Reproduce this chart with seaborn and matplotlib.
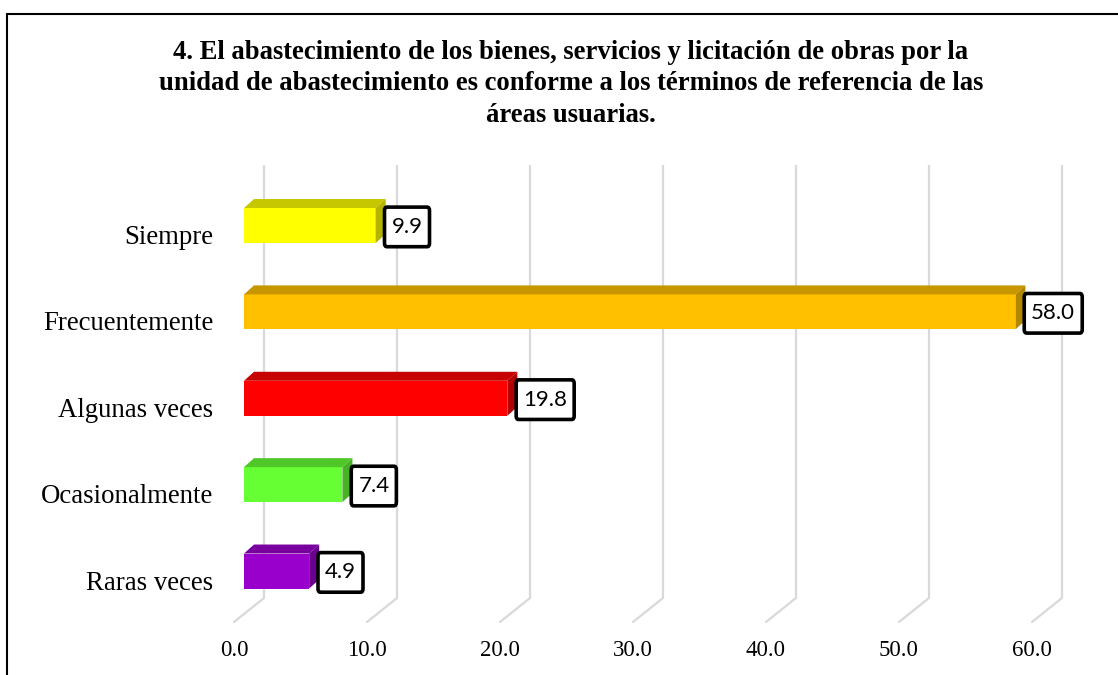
import matplotlib
matplotlib.use("Agg")
import matplotlib.pyplot as plt
import seaborn as sns
import pandas as pd
from matplotlib.patches import Polygon
from matplotlib.lines import Line2D
from matplotlib.transforms import ScaledTranslation, blended_transform_factory

# Survey answers and their percentages
categories = ["Siempre", "Frecuentemente", "Algunas veces", "Ocasionalmente", "Raras veces"]
values = [9.9, 58.0, 19.8, 7.4, 4.9]
colors = ["#FFFF00", "#FFC000", "#FF0000", "#66FF33", "#9900CC"]
x_ticks = [0, 10, 20, 30, 40, 50, 60]
x_tick_labels = ["0.0", "10.0", "20.0", "30.0", "40.0", "50.0", "60.0"]
title = ("4. El abastecimiento de los bienes, servicios y licitación de obras por la\n"
         "unidad de abastecimiento es conforme a los términos de referencia de las\n"
         "áreas usuarias.")

sns.set_theme(style="white")
plt.rcParams["font.family"] = ["Liberation Serif", "DejaVu Serif"]

W, H, DPI = 1118, 675, 100
fig = plt.figure(figsize=(W / DPI, H / DPI), dpi=DPI)
fig.patch.set_facecolor("white")

# front plane of the bars
ax_l, ax_r, ax_t, ax_b = 244, 1042, 180, 613
ax = fig.add_axes([ax_l / W, (H - ax_b) / H, (ax_r - ax_l) / W, (ax_b - ax_t) / H])
ax.set_facecolor("none")

df = pd.DataFrame({"cat": categories, "val": values})
sns.barplot(data=df, x="val", y="cat", hue="cat", order=categories, hue_order=categories,
            palette=colors, width=0.405, orient="h", legend=False, saturation=1,
            linewidth=0, edgecolor="none", ax=ax, zorder=3)

xmin, xmax = 0, 60
ytop, ybot = -0.527, 4.486
ax.set_xlim(xmin, xmax)
ax.set_ylim(ybot, ytop)

px_x = (ax_r - ax_l) / (xmax - xmin)
px_y = (ax_b - ax_t) / (ybot - ytop)
ax_h = ax_b - ax_t


def shade(c, f):
    r, g, b = matplotlib.colors.to_rgb(c)
    return (r * f, g * f, b * f)


# depth faces of the bars
ddx, ddy = 10 / px_x, 9 / px_y
for p, c in zip(ax.patches, colors):
    x0, y0, w, h = p.get_x(), p.get_y(), p.get_width(), p.get_height()
    top = [(x0, y0), (x0 + w, y0), (x0 + w + ddx, y0 - ddy), (x0 + ddx, y0 - ddy)]
    side = [(x0 + w, y0), (x0 + w + ddx, y0 - ddy), (x0 + w + ddx, y0 + h - ddy), (x0 + w, y0 + h)]
    ax.add_patch(Polygon(top, closed=True, fc=shade(c, 0.78), ec="none", zorder=3, clip_on=False))
    ax.add_patch(Polygon(side, closed=True, fc=shade(c, 0.70), ec="none", zorder=3, clip_on=False))

# back wall gridlines and floor edges
bt = blended_transform_factory(ax.transData, ax.transAxes)
back_dx, back_dy = 20 / px_x, 15 / ax_h
front_dx, front_dy = -10 / px_x, -9 / ax_h
for t in x_ticks:
    ax.plot([t + back_dx, t + back_dx], [back_dy, 1 + back_dy], color="#D9D9D9", lw=1.6,
            transform=bt, clip_on=False, zorder=1, solid_capstyle="butt")
    ax.plot([t + back_dx, t + front_dx], [back_dy, front_dy], color="#D9D9D9", lw=1.6,
            transform=bt, clip_on=False, zorder=1)

for s in ax.spines.values():
    s.set_visible(False)
ax.grid(False)
ax.set_xlabel("")
ax.set_ylabel("")
ax.set_xticks(x_ticks)
ax.set_xticklabels(x_tick_labels)
ax.tick_params(axis="x", length=0, pad=19.5, labelsize=16.5, labelcolor="black")
ax.tick_params(axis="y", length=0, pad=22.3, labelsize=19.3, labelcolor="black")
for lab in ax.get_xticklabels():
    lab.set_transform(lab.get_transform() + ScaledTranslation(-10 / DPI, 0, fig.dpi_scale_trans))
for lab in ax.get_yticklabels():
    lab.set_transform(lab.get_transform() + ScaledTranslation(0, -9 / DPI, fig.dpi_scale_trans))

# value labels
for i, v in enumerate(values):
    ax.annotate(f"{v:.1f}", xy=(v, i), xytext=(11.4, -1), textcoords="offset points",
                ha="left", va="center", fontsize=16, family=["Lato", "DejaVu Sans"],
                color="black", zorder=5,
                bbox=dict(boxstyle="round,pad=0.315,rounding_size=0.11", fc="white",
                          ec="black", lw=2.6, mutation_aspect=1.4))

fig.text(571 / W, 1 - 40 / H, title, ha="center", va="top", fontsize=19.2,
         fontweight="bold", linespacing=1.34, color="black")

# outer frame (left and top edges)
fig.add_artist(Line2D([7 / W, 7 / W], [0, 1 - 14 / H], color="black", lw=1.5))
fig.add_artist(Line2D([7 / W, 1], [1 - 14 / H, 1 - 14 / H], color="black", lw=1.5))

fig.savefig("out.png", dpi=DPI, facecolor="white")
